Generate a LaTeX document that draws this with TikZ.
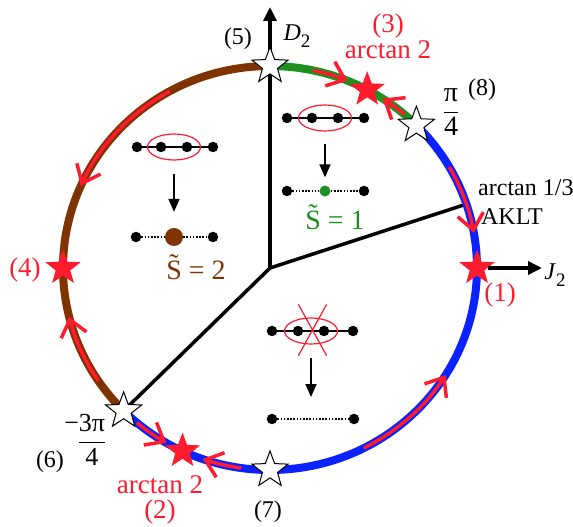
\documentclass[tikz,border=0pt]{standalone}
\usepackage{amsmath}
\usepackage{fontspec}
\setmainfont{Liberation Serif}
\usetikzlibrary{arrows.meta,positioning,shapes.geometric,shapes.misc}
\definecolor{phBrown}{HTML}{7F3300}
\definecolor{phGreen}{HTML}{1F8F1F}
\definecolor{phBlue}{HTML}{0A22FF}
\definecolor{flowRed}{HTML}{FF1A2E}
\newcommand\tildeS{\ooalign{S\cr\hidewidth\raisebox{0.22em}{\char"02DC}\hidewidth\cr}}
\def\rx{207pt}
\def\ry{202pt}

\begin{document}
\begin{tikzpicture}[x=1pt,y=1pt,
  lbl/.style={font=\fontsize{24}{26}\selectfont,inner sep=0pt},
  redlbl/.style={font=\fontsize{27}{29}\selectfont,inner sep=0pt,text=flowRed},
  bound/.style={line width=3.5pt},
  axis/.style={line width=3.5pt,-{Triangle[length=14pt,width=13pt]}},
  phase/.style={line width=8pt},
  flow/.style={draw=flowRed,line width=3.5pt,-{Straight Barb[length=16pt,width=26pt]}},
  fixw/.style={star,star points=5,star point ratio=2.4,minimum size=38pt,
               draw,line width=1pt,fill=white,inner sep=0pt},
  fixr/.style={star,star points=5,star point ratio=2.4,minimum size=37pt,
               fill=flowRed,inner sep=0pt},
  site/.style={circle,fill,inner sep=0pt,minimum size=10.5pt},
  bond/.style={line width=2pt},
  weak/.style={line width=2pt,dash pattern=on 1.6pt off 1.6pt},
  pair/.style={draw=flowRed,line width=1.2pt,ellipse,inner sep=0pt,
               minimum width=53pt,minimum height=26pt},
  down/.style={line width=1.8pt,-{Triangle[length=13pt,width=11pt]}}]
  \useasboundingbox (-270,-259) rectangle (303,268);

  % phase boundaries and axes
  \coordinate (o) at (0,0);
  \coordinate (d2) at (0,261);
  \coordinate (aklt) at (18.43:207pt and 202pt);
  \coordinate (j2) at (272,0);
  \draw[axis] (o) -- (d2);
  \draw[bound] (o) -- (aklt);
  \draw[bound] (o) -- (225:207pt and 202pt);

  % the circle of couplings
  \draw[phase,phBrown] (90:207pt and 202pt) arc[start angle=90,end angle=225,x radius=\rx,y radius=\ry];
  \draw[phase,phGreen] (45:207pt and 202pt) arc[start angle=45,end angle=90,x radius=\rx,y radius=\ry];
  \draw[phase,phBlue] (-135:207pt and 202pt) arc[start angle=-135,end angle=45,x radius=\rx,y radius=\ry];

  % RG flow
  \foreach \a/\b in {119/156,214/194,78/68,49.5/57,30/10,-63/-32,230/240,262/251}
    \draw[flow] (\a:207pt and 202pt) arc[start angle=\a,end angle=\b,x radius=\rx,y radius=\ry];

  % fixed points
  \node[fixw] (s5) at (90:207pt and 202pt) {};
  \node[fixw] (s8) at (45:207pt and 202pt) {};
  \node[fixw] (s6) at (225:207pt and 202pt) {};
  \node[fixw] (s7) at (270:207pt and 202pt) {};
  \node[fixr] (r1) at (0:207pt and 202pt) {};
  \node[fixr] (r3) at (62:207pt and 202pt) {};
  \node[fixr] (r4) at (180:207pt and 202pt) {};
  \node[fixr] (r2) at (245:207pt and 202pt) {};
  \draw[axis,line width=4pt] (r1.east) -- (j2);

  % labels
  \node[lbl] (l5) at (-32,229) {(5)};
  \node[lbl] (ld) at (27,232) {\textit{D}\raisebox{-7pt}{\fontsize{19}{20}\selectfont 2}};
  \node[redlbl] (l3) at (118,242) {(3)};
  \node[redlbl] (a3) at (118,218) {arctan 2};
  \node[lbl,font=\fontsize{28}{30}\selectfont] (p8) at (181,156) {$\dfrac{\text{π}}{\text{4}}$};
  \node[lbl] (l8) at (212,178) {(8)};
  \node[lbl,anchor=west] (a13) at (208,80) {arctan 1/3};
  \node[lbl] (ak) at (242,51) {AKLT};
  \node[redlbl] (l1) at (230,-27) {(1)};
  \node[lbl] (lj) at (285,-7) {\textit{J}\raisebox{-7pt}{\fontsize{19}{20}\selectfont 2}};
  \node[redlbl] (l4) at (-245,-2) {(4)};
  \node[lbl,font=\fontsize{26}{28}\selectfont] (p6) at (-178,-172) {$\dfrac{\llap{−}\text{3π}}{\text{4}}$};
  \node[lbl] (l6) at (-220,-194) {(6)};
  \node[redlbl] (a2) at (-110,-217) {arctan 2};
  \node[redlbl] (l2) at (-110,-244) {(2)};
  \node[lbl] (l7) at (-2,-244) {(7)};

  % Haldane-like phase, S=2
  \foreach \n/\x in {1/-133,2/-109,3/-83,4/-57}
    \node[site] (b\n) at (\x,121) {};
  \draw[bond] (b1) -- (b4);
  \node[pair] (bp) at (-96,121) {};
  \node[circle,fill=phBrown,inner sep=0pt,minimum size=18pt] (bS) at (-96,31) {};
  \node[site] (bl) at (-134,31) {};
  \node[site] (br) at (-57,31) {};
  \draw[weak] (bl) -- (bS);
  \draw[weak] (bS) -- (br);
  \draw[down,shorten <=13pt,shorten >=16pt] (bp) -- (bS);
  \node[lbl,anchor=base,text=phBrown,font=\fontsize{28}{30}\selectfont] (tb) at (-74,-12) {\tildeS{} = 2};

  % S=1 phase
  \foreach \n/\x in {1/17,2/42,3/68,4/94}
    \node[site] (g\n) at (\x,150) {};
  \draw[bond] (g1) -- (g4);
  \node[pair] (gp) at (55,150) {};
  \node[circle,fill=phGreen,inner sep=0pt,minimum size=11pt] (gS) at (55,77) {};
  \node[site] (gl) at (17,77) {};
  \node[site] (gr) at (94,77) {};
  \draw[weak] (gl) -- (gS);
  \draw[weak] (gS) -- (gr);
  \draw[down,shorten <=12pt,shorten >=8pt] (gp) -- (gS);
  \node[lbl,anchor=base,text=phGreen,font=\fontsize{28}{30}\selectfont] (tg) at (65,38) {\tildeS{} = 1};

  % dimerised phase
  \foreach \n/\x in {1/2,2/28,3/54,4/83}
    \node[site] (n\n) at (\x,-63) {};
  \draw[bond] (n1) -- (n4);
  \node[pair] (np) at (41,-63) {};
  \node[cross out,draw=flowRed,line width=1.2pt,minimum width=27pt,minimum height=50pt] (nx) at (42.5,-62) {};
  \coordinate (ntip) at (41,-129);
  \draw[down,shorten <=13pt] (np) -- (ntip);
  \node[site] (m1) at (2,-151) {};
  \node[site] (m2) at (84,-151) {};
  \draw[weak] (m1) -- (m2);
\end{tikzpicture}
\end{document}
